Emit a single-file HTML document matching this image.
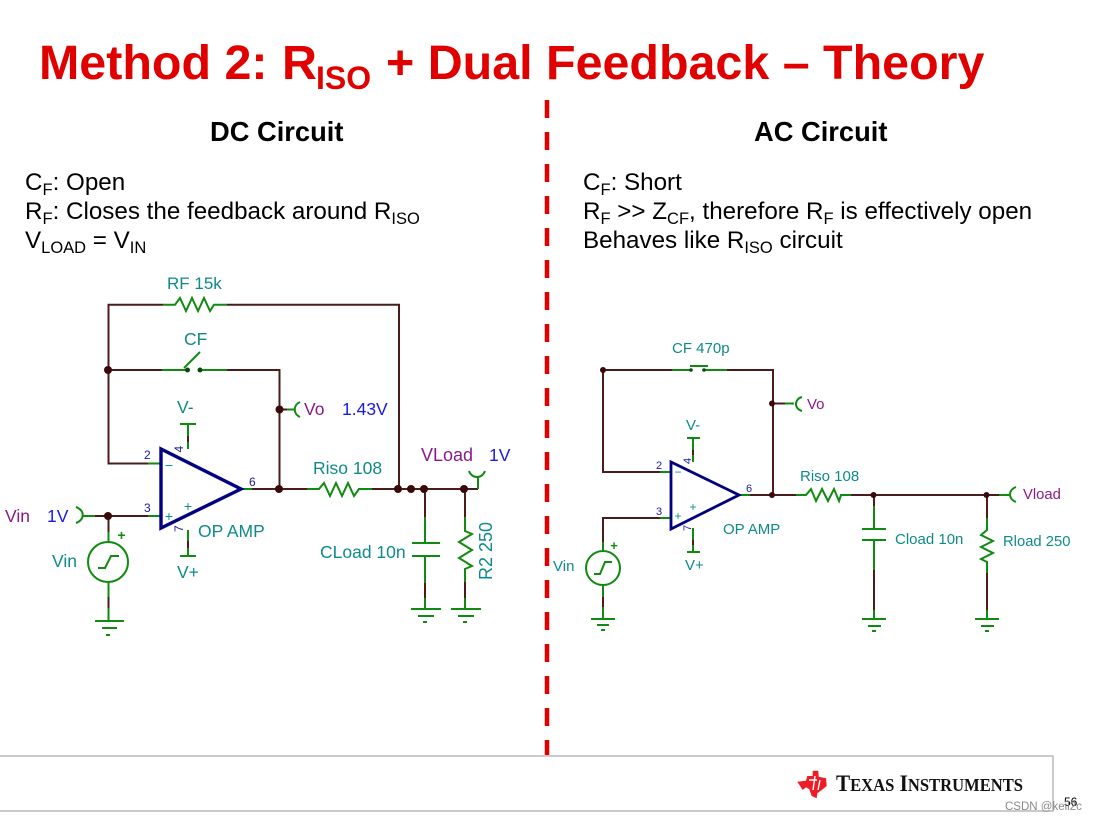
<!DOCTYPE html>
<html><head><meta charset="utf-8"><style>
html,body{margin:0;padding:0;background:#fff}
svg{display:block}
text{font-family:"Liberation Sans",sans-serif}
.w{stroke:#4a1c1c;stroke-width:2;fill:none}
.g{stroke:#108a10;stroke-width:2;fill:none}
.b{fill:#000;font-size:24.2px}
.s{font-size:16.5px}
.t{fill:#0f8a8a}
.p{fill:#8a1a8a}
.v{fill:#1a1ae0}
.n{fill:#1a1a9a;font-size:12px}
.d{fill:#3a0a0a}
.o{stroke:#000080;stroke-width:3.4;fill:none;stroke-linejoin:miter}
</style></head><body>
<svg width="1093" height="820" viewBox="0 0 1093 820" xmlns="http://www.w3.org/2000/svg">
<rect width="1093" height="820" fill="#fff"/>
<!-- title -->
<g fill="#e00000" font-weight="bold">
<text x="39" y="79" font-size="48.4" font-weight="bold">Method 2: </text>
<text x="282" y="79" font-size="48.4" font-weight="bold">R</text>
<text x="316" y="89" font-size="32" font-weight="bold">ISO</text>
<text x="386" y="79" font-size="48.4" font-weight="bold">+ Dual Feedback – Theory</text>
</g>
<line x1="547" y1="100" x2="547" y2="755" stroke="#e00000" stroke-width="4.5" stroke-dasharray="18 14"/>
<text x="210" y="141" font-size="27.3" font-weight="bold">DC Circuit</text>
<text x="754" y="141" font-size="27.3" font-weight="bold">AC Circuit</text>
<!-- left body -->
<text class="b" x="25" y="190">C<tspan class="s" dy="5">F</tspan><tspan dy="-5">: Open</tspan></text>
<text class="b" x="25" y="219">R<tspan class="s" dy="5">F</tspan><tspan dy="-5">: Closes the feedback around R</tspan><tspan class="s" dy="5">ISO</tspan></text>
<text class="b" x="25" y="248">V<tspan class="s" dy="5">LOAD</tspan><tspan dy="-5"> = V</tspan><tspan class="s" dy="5">IN</tspan></text>
<!-- right body -->
<text class="b" x="583" y="190">C<tspan class="s" dy="5">F</tspan><tspan dy="-5">: Short</tspan></text>
<text class="b" x="583" y="219">R<tspan class="s" dy="5">F</tspan><tspan dy="-5"> &gt;&gt; Z</tspan><tspan class="s" dy="5">CF</tspan><tspan dy="-5">, therefore R</tspan><tspan class="s" dy="5">F</tspan><tspan dy="-5"> is effectively open</tspan></text>
<text class="b" x="583" y="248">Behaves like R<tspan class="s" dy="5">ISO</tspan><tspan dy="-5"> circuit</tspan></text>

<!-- LEFT CIRCUIT wires -->
<path class="w" d="M163 304.700H108.500V463.500H148M227 304.700H399V489M163 370H108.500M227 370H279.500V489M241 489H308M372 489H478M279.500 409.500H287M425 489V517M425 583V598M465 489V517M465 582V598M95 516H148M108.500 516V532M108.500 597V608M188 424V449M188 530V556"/>
<path class="g" d="M163 304.700H175L180 298L186 311L192 298L198 311L204 298L210 311L214 304.700H227M162 370H187M200 370H227M184 368L200 352M148 463.500H161M148 516H161M241 489H252M307 489H319L324 483L330 496L336 483L342 496L348 483L354 496L359 489H372M287 409.500H295M300 402C293 405 293 414 300 417M83 516H95M76 507C85 510 85 520 76 523M478 489V478M469 471C472 479 482 479 485 471M425 517V543M412 543H440M412 556H440M425 556V583M425 598V609M465 517V531L472 534L459 542L472 550L459 558L472 566L465 569V582M465 598V609M188 424V436M180 424H196M188 442V449M188 530V541M180 556H196M188 548V556M108.500 532V542M108.500 582V597M108.500 608V621M95 621H124M102 628H117M106 635H110M411 609H441M418 616H434M423 622H427M451 609H481M458 616H474M463 622H467M98 568H105L111 556H119"/>
<circle class="g" cx="108" cy="562" r="20"/>
<circle cx="187.500" cy="370" r="2.500" fill="#0a4a0a"/><circle cx="200" cy="370" r="2.500" fill="#0a4a0a"/>
<path class="o" d="M161 449V528L241 489Z"/>
<g class="d"><circle cx="108" cy="370" r="4"/><circle cx="108" cy="516" r="4"/><circle cx="279.500" cy="409.500" r="4"/><circle cx="279" cy="489" r="4"/><circle cx="398" cy="489" r="4"/><circle cx="411" cy="489" r="4"/><circle cx="424" cy="489" r="4"/><circle cx="464" cy="489" r="4"/></g>
<g font-size="17.500" class="t">
<text x="167" y="289" class="t" font-size="17">RF 15k</text>
<text x="184" y="345" class="t">CF</text>
<text x="177" y="413" class="t">V-</text>
<text x="177" y="578" class="t">V+</text>
<text x="198" y="537" class="t">OP AMP</text>
<text x="52" y="567" class="t">Vin</text>
<text x="313" y="474" class="t">Riso 108</text>
<text x="320" y="558" class="t">CLoad 10n</text>
<text transform="translate(492,580) rotate(-90)" class="t" font-size="18">R2 250</text>
</g>
<g font-size="17.500">
<text x="5" y="522" class="p">Vin</text><text x="47" y="522" class="v">1V</text>
<text x="304" y="415" class="p">Vo</text><text x="342" y="415" class="v">1.43V</text>
<text x="421" y="461" class="p" font-size="18">VLoad</text><text x="489" y="461" class="v">1V</text>
</g>
<g class="n"><text x="144" y="459">2</text><text x="144" y="512">3</text><text x="249" y="486">6</text>
<text transform="translate(183,452.500) rotate(-90)">4</text><text transform="translate(183,532) rotate(-90)">7</text></g>
<g fill="#0f8a8a" font-size="14" text-anchor="middle"><text x="169" y="470">−</text><text x="169" y="521">+</text><text x="188" y="511">+</text></g>
<text x="121.500" y="540" font-size="14" font-weight="bold" fill="#108a10" text-anchor="middle">+</text>

<!-- RIGHT CIRCUIT wires -->
<path class="w" d="M672 370H603V472H660M727 370H773V495M739 495H796M851 495H999M772 403.500H785M660 518H603V542M603 597V607M874 495V516M874 570V610M987 495V518M987 573V610M693 438V462M693 528V552"/>
<path class="g" d="M672 370H691M703 370H727M690 366H708M660 472H671M660 518H671M739 495H750M785 403.500H794M802 397C794 399 794 409 802 411M796 495H806L811 489L816 501L822 489L828 501L834 489L839 501L841 495H851M999 495H1009M1016 487C1008 490 1008 499 1016 502M874 506V529M862 529H886M862 540H886M874 540V570M874 610V619M862 619H886M868 626H881M872 631H876M987 518V530L981 535L993 541L981 547L993 553L981 559L987 562V573M987 610V619M975 619H999M981 626H994M985 631H989M693 438V450M687 438H700M693 455V462M693 528V540M687 552H700M693 545V552M603 542V551M603 585V597M603 607V619M591 619H615M597 625H609M601 630H605M594 574H600L605 562H612"/>
<circle class="g" cx="603" cy="568" r="17"/>
<circle cx="691" cy="370" r="1.800" fill="#0a4a0a"/><circle cx="704" cy="370" r="1.800" fill="#0a4a0a"/>
<path d="M671 462V529L739 495Z" fill="none" stroke="#000080" stroke-width="2.800"/>
<g class="d"><circle cx="603" cy="370" r="3"/><circle cx="772" cy="403.500" r="3"/><circle cx="772" cy="495" r="3"/><circle cx="873.500" cy="495" r="3"/><circle cx="986.500" cy="495" r="3"/></g>
<g font-size="15">
<text x="672" y="353" class="t">CF 470p</text>
<text x="686" y="430" class="t">V-</text>
<text x="685" y="570" class="t">V+</text>
<text x="723" y="534" class="t">OP AMP</text>
<text x="553" y="571" class="t">Vin</text>
<text x="800" y="481" class="t">Riso 108</text>
<text x="895" y="544" class="t">Cload 10n</text>
<text x="1003" y="546" class="t" font-size="14.800">Rload 250</text>
<text x="807" y="409" class="p">Vo</text>
<text x="1023" y="499" class="p" font-size="14.800">Vload</text>
</g>
<g class="n"><text x="656" y="469" font-size="11">2</text><text x="656" y="515" font-size="11">3</text><text x="746" y="492" font-size="11">6</text>
<text transform="translate(691,464) rotate(-90)" font-size="11">4</text><text transform="translate(691,531) rotate(-90)" font-size="11">7</text></g>
<g fill="#0f8a8a" font-size="12" text-anchor="middle"><text x="678" y="476">−</text><text x="678" y="520">+</text><text x="693" y="511">+</text></g>
<text x="614" y="550" font-size="13" font-weight="bold" fill="#108a10" text-anchor="middle">+</text>

<!-- footer -->
<rect x="-2" y="756" width="1055" height="55" fill="#fff" stroke="#a8a8a8" stroke-width="1.200"/>
<path d="M812.700 770.700L818.300 770.700L818.700 776.700L826 778.300L826.700 786L821.700 790L817.300 793.300L816.700 798.300L811.700 796L809.300 789.300L806 787.300L802.700 790L797.300 781.700L806 780.700L807.300 776L812.700 776Z" fill="#ee1c25"/>
<path d="M815 776L813 790M820 780L818 790M809 780H817" stroke="#fff" stroke-width="1.400" fill="none"/>
<text x="836" y="791" font-size="23" font-family="Liberation Serif" style="font-family:'Liberation Serif',serif" font-weight="bold" fill="#111" textLength="187" lengthAdjust="spacingAndGlyphs">T<tspan font-size="18">EXAS</tspan> I<tspan font-size="18">NSTRUMENTS</tspan></text>
<text x="1064" y="806" font-size="12" fill="#000">56</text>
<text x="1005" y="810" font-size="11.500" fill="#8a8a8a">CSDN @keil2c</text>
</svg>
</body></html>
